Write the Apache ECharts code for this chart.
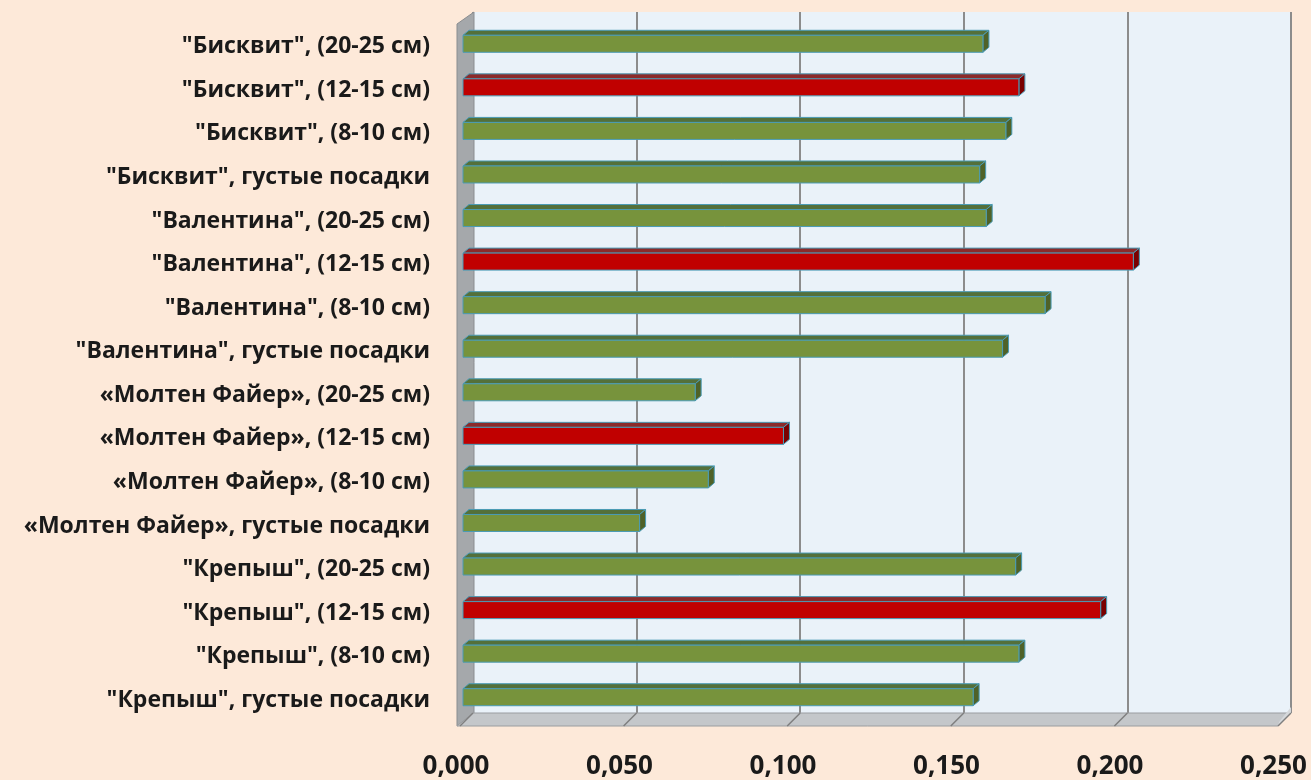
<!DOCTYPE html>
<html>
<head>
<meta charset="utf-8">
<script src="https://cdn.jsdelivr.net/npm/echarts@6/dist/echarts.min.js"></script>
<style>
	html, body { margin: 0; padding: 0; background: #FDE9D9; }
	#chart { width: 1311px; height: 780px; }
</style>
</head>
<body>
<div id="chart"></div>
<script>
// Категории (сверху вниз)
const categories = [
	'"Бисквит", (20-25 см)',
	'"Бисквит", (12-15 см)',
	'"Бисквит", (8-10 см)',
	'"Бисквит", густые посадки',
	'"Валентина", (20-25 см)',
	'"Валентина", (12-15 см)',
	'"Валентина", (8-10 см)',
	'"Валентина", густые посадки',
	'«Молтен Файер», (20-25 см)',
	'«Молтен Файер», (12-15 см)',
	'«Молтен Файер», (8-10 см)',
	'«Молтен Файер», густые посадки',
	'"Крепыш", (20-25 см)',
	'"Крепыш", (12-15 см)',
	'"Крепыш", (8-10 см)',
	'"Крепыш", густые посадки',
];
// Значения
const values = [
	0.159, 0.170, 0.166, 0.158,
	0.160, 0.205, 0.178, 0.165,
	0.071, 0.098, 0.075, 0.054,
	0.169, 0.195, 0.170, 0.156,
];
// Подписи оси X
const xTicks = [0, 0.05, 0.1, 0.15, 0.2, 0.25];

const W = 1311, H = 780;
// задняя стенка (пиксели)
const back = { left: 473, right: 1291, top: 12, bottom: 713 };
const floorFront = 726, depth = 13;

function fmt(v) {
	return v.toFixed(3).replace('.', ',');
}

// 3D-полоса: передняя грань, верх и торец
function renderItem(params, api) {
	const v = api.value(0);
	const i = api.value(1);
	const p0 = api.coord([0, i]);
	const p1 = api.coord([v, i]);
	const h = 17, dx = 6, dy = 5;
	const x0 = p0[0], x1 = p1[0];
	const y0 = p0[1] - 3 - h / 2;
	const red = categories[i].indexOf('12-15') >= 0;
	const front = red ? '#C00000' : '#77933C';
	const top = red ? '#8C2A2A' : '#54703A';
	const side = red ? '#7A0000' : '#4F6228';
	const edge = '#4A9BB5';
	return {
		type: 'group',
		children: [
			{
				type: 'polygon',
				shape: { points: [[x0, y0], [x0 + dx, y0 - dy], [x1 + dx, y0 - dy], [x1, y0]] },
				style: { fill: top, stroke: edge, lineWidth: 1 },
			},
			{
				type: 'polygon',
				shape: { points: [[x1, y0], [x1 + dx, y0 - dy], [x1 + dx, y0 + h - dy], [x1, y0 + h]] },
				style: { fill: side, stroke: edge, lineWidth: 1 },
			},
			{
				type: 'rect',
				shape: { x: x0, y: y0, width: x1 - x0, height: h },
				style: { fill: front, stroke: edge, lineWidth: 1 },
			},
		],
	};
}

// стенки и пол (декор)
const decor = [
	{
		type: 'polygon', z: 3,
		shape: { points: [[457, 24], [back.left + 1, back.top], [back.left + 1, back.bottom], [457, floorFront]] },
		style: { fill: '#A5A8AB', stroke: '#8A8D90', lineWidth: 1 },
	},
	{
		type: 'polygon', z: 3,
		shape: { points: [[457, floorFront], [back.left, back.bottom], [back.right, back.bottom], [back.right - depth, floorFront]] },
		style: { fill: '#C4C7CA', stroke: '#9A9DA0', lineWidth: 1 },
	},
	{
		type: 'polygon', z: 3,
		shape: { points: [[back.right - depth, floorFront], [back.right, back.bottom], [back.right, back.bottom - 6], [back.right - depth + 1, floorFront - 4]] },
		style: { fill: '#D5D8DB' },
	},
];
xTicks.forEach((t) => {
	const bx = back.left + (t / 0.25) * (back.right - back.left);
	decor.push({
		type: 'line', z: 4,
		shape: { x1: bx, y1: back.bottom, x2: bx - depth, y2: floorFront },
		style: { stroke: '#7F7F7F', lineWidth: 1.5 },
	});
});

const myChart = echarts.init(document.getElementById('chart'));
myChart.setOption({
	backgroundColor: '#FDE9D9',
	animation: false,
	textStyle: { fontFamily: 'Open Sans' },
	grid: [
		{
			// задняя стенка
			left: back.left, right: W - back.right, top: back.top, bottom: H - back.bottom,
			show: true, backgroundColor: '#EAF2F9', borderWidth: 0,
		},
		{
			// плоскость полос
			left: 463, right: W - 463 - 817.5, top: 25, bottom: 55,
		},
	],
	xAxis: [
		{
			gridIndex: 0, type: 'value', min: 0, max: 0.25, interval: 0.05,
			axisLine: { show: false }, axisTick: { show: false }, axisLabel: { show: false },
			splitLine: { show: true, lineStyle: { color: '#8C8C8C', width: 2 } },
		},
		{
			gridIndex: 1, type: 'value', min: 0, max: 0.25, interval: 0.05,
			axisLine: { show: false }, axisTick: { show: false }, splitLine: { show: false },
			axisLabel: {
				margin: 32, fontSize: 26, fontWeight: 'bold', color: '#1A1A1A',
				padding: [0, 14, 0, 0],
				formatter: fmt,
			},
		},
	],
	yAxis: [
		{
			gridIndex: 1, type: 'category', data: categories, inverse: true,
			axisLine: { show: false }, axisTick: { show: false }, splitLine: { show: false },
			axisLabel: { margin: 33, fontSize: 23, fontWeight: 'bold', color: '#1A1A1A' },
		},
		{ gridIndex: 0, type: 'value', show: false, splitLine: { show: false } },
	],
	graphic: decor,
	series: [
		{
			type: 'custom',
			xAxisIndex: 1,
			yAxisIndex: 0,
			z: 10,
			renderItem: renderItem,
			encode: { x: 0, y: 1 },
			data: values.map((v, i) => [v, i]),
		},
	],
});
</script>
</body>
</html>
